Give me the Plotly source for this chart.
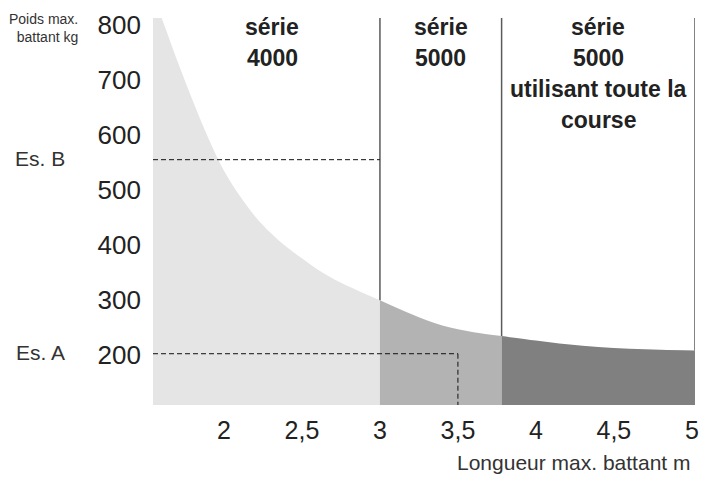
import numpy as np
import plotly.graph_objects as go

# ---- data ----
length_m = [1.545, 1.6, 1.7, 1.8, 1.9, 2.0, 2.1, 2.2, 2.3, 2.4, 2.5, 2.6, 2.7, 2.8,
            3.0, 3.2, 3.4, 3.6, 3.78, 4.0, 4.2, 4.4, 4.6, 4.8, 5.02]
weight_kg = [850, 812, 735, 662, 594, 535, 490, 452, 422, 397, 376, 356, 339, 325,
             300, 275, 254, 242, 235, 227, 220, 215, 212, 210, 209]

zone_bounds = [1.545, 3.0, 3.78, 5.02]
zone_colors = ["#e5e5e5", "#b3b3b3", "#808080"]
zone_titles = [["série", "4000"], ["série", "5000"], ["série", "5000", "utilisant toute la", "course"]]
zone_title_x = [2.31, 3.39, 4.40]

example_labels = ["Es. B", "Es. A"]
example_kg = [555, 203]
example_len = [3.0, 3.5]

x_ticks = [2, 2.5, 3, 3.5, 4, 4.5, 5]
x_ticktext = ["2", "2,5", "3", "3,5", "4", "4,5", "5"]
y_ticks = [200, 300, 400, 500, 600, 700, 800]
y_ticktext = ["200", "300", "400", "500", "600", "700", "800"]

x_title = "Longueur max. battant m"
y_title = "Poids max.<br>battant kg"

X_RANGE = [1.545, 5.02]
Y_RANGE = [110, 812]

font_family = "Liberation Sans, Arial, sans-serif"

# figure geometry (body margin removed, figure fills the window)
W, H = 710, 487
ML, MR, MT, MB = 153, 15, 10, 82
PW = W - ML - MR


def px_to_paper_x(page_x):
    return (page_x - ML) / PW


fig = go.Figure()
lx = np.array(length_m)
wy = np.array(weight_kg)
for i, col in enumerate(zone_colors):
    lo, hi = zone_bounds[i], zone_bounds[i + 1]
    m = (lx >= lo - 1e-9) & (lx <= hi + 1e-9)
    fig.add_trace(go.Scatter(x=lx[m], y=wy[m], mode="lines", fill="tozeroy",
                             fillcolor=col, line=dict(width=0, color=col, shape="spline"),
                             showlegend=False, hoverinfo="skip"))

# vertical separators from curve up to top
for b in zone_bounds[1:]:
    yc = float(np.interp(b, lx, wy))
    fig.add_shape(type="line", x0=b, x1=b, y0=yc, y1=Y_RANGE[1], xref="x", yref="y",
                  line=dict(color="#5a5a5a", width=1.5))

# example dashed lines
dash = dict(color="#111111", width=1, dash="5px,3px")
fig.add_shape(type="line", x0=X_RANGE[0], x1=example_len[0], y0=example_kg[0], y1=example_kg[0],
              xref="x", yref="y", line=dash)
fig.add_shape(type="line", x0=X_RANGE[0], x1=example_len[1], y0=example_kg[1], y1=example_kg[1],
              xref="x", yref="y", line=dash)
fig.add_shape(type="line", x0=example_len[1], x1=example_len[1], y0=example_kg[1], y1=Y_RANGE[0],
              xref="x", yref="y", line=dash)

for lab, kg in zip(example_labels, example_kg):
    fig.add_annotation(text=lab, x=px_to_paper_x(67), xref="paper", xanchor="right",
                       y=kg, yref="y", yshift=1, showarrow=False,
                       font=dict(size=21, color="#333333", family=font_family))

# zone titles (one annotation per line)
line_step = 31
for i, lines in enumerate(zone_titles):
    for j, t in enumerate(lines):
        fig.add_annotation(text=t, x=zone_title_x[i], xref="x", y=1, yref="paper", yanchor="middle",
                           yshift=-(9 + j * line_step), showarrow=False,
                           font=dict(size=23, color="#222222", family=font_family, weight="bold"))

fig.add_annotation(text=x_title, x=1, xref="paper", xanchor="right", xshift=-3,
                   y=0, yref="paper", yshift=-57, yanchor="middle", showarrow=False,
                   font=dict(size=21, color="#333333", family=font_family))
fig.add_annotation(text=y_title, x=px_to_paper_x(80), xref="paper", xanchor="right", align="right",
                   y=1, yref="paper", yshift=9, yanchor="top", showarrow=False,
                   font=dict(size=14, color="#333333", family=font_family))

fig.update_xaxes(range=X_RANGE, tickvals=x_ticks, ticktext=x_ticktext, showgrid=False,
                 zeroline=False, showline=False, ticks="", ticklabelstandoff=8,
                 tickfont=dict(size=25, color="#222222", family=font_family))
fig.update_yaxes(range=Y_RANGE, tickvals=y_ticks, ticktext=y_ticktext, showgrid=False,
                 zeroline=False, showline=False, ticks="", ticklabelstandoff=11,
                 ticklabeloverflow="allow",
                 tickfont=dict(size=26, color="#222222", family=font_family))

fig.update_layout(width=W, height=H, margin=dict(l=ML, r=MR, t=MT, b=MB),
                  paper_bgcolor="white", plot_bgcolor="white", showlegend=False)

fig.write_html("out.html", config={"displayModeBar": False},
               post_script="document.body.style.margin='0px';")
